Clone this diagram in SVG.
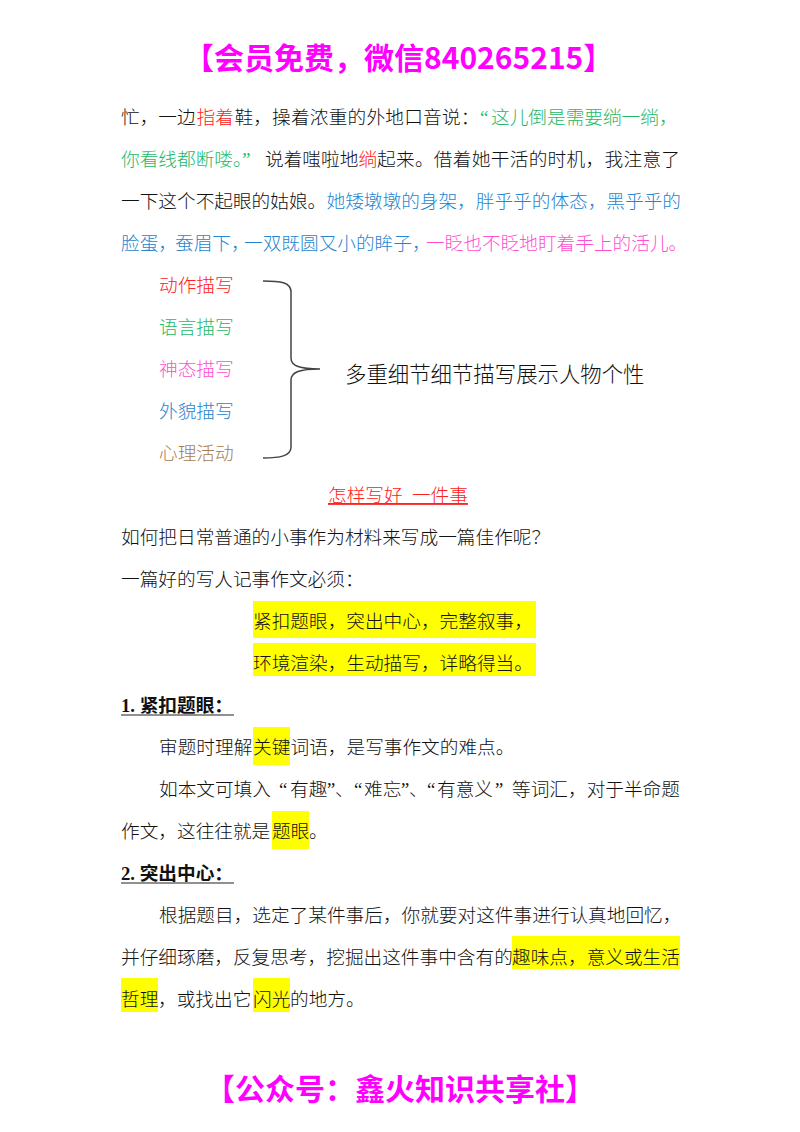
<svg xmlns="http://www.w3.org/2000/svg" width="800" height="1132" viewBox="0 0 800 1132" xml:lang="zh-CN">
<style>
text{font-family:"Liberation Serif","Noto Sans CJK SC",serif;font-size:18.67px;font-weight:300;fill:#111}
.h{font-family:"Noto Sans CJK SC",sans-serif;font-size:30px;font-weight:700;fill:#ff00ff}
.r{fill:#ff2020}.g{fill:#1db866}.b{fill:#2585cf}.p{fill:#ff4fd0}.n{fill:#a87c50}
.hl{fill:#ffff00}
.u{font-weight:700;fill:#111}
.line{stroke:#222;stroke-width:1.2}
</style>
<rect width="800" height="1132" fill="#fff"/>
<g id="highlights">
<rect class="hl" x="253" y="601" width="283" height="37"/>
<rect class="hl" x="253" y="643" width="283" height="33"/>
<rect class="hl" x="253" y="727" width="37" height="38"/>
<rect class="hl" x="272" y="811" width="37" height="38"/>
<rect class="hl" x="512" y="936" width="168" height="33"/>
<rect class="hl" x="121" y="978" width="37" height="34"/>
<rect class="hl" x="253" y="978" width="37" height="34"/>
</g>
<text id="header" class="h" x="184" y="69">【会员免费&#65292;微信840265215】</text>
<g id="passage">
<text y="124"><tspan x="121">忙&#65292;一边</tspan><tspan class="r" x="196.6">指着</tspan><tspan x="234.4" textLength="245">鞋&#65292;操着浓重的外地口音说&#65306;</tspan><tspan class="g" x="480">“</tspan><tspan class="g" x="491">这儿倒是需要绱一绱&#65292;</tspan></text>
<text y="166"><tspan class="g" x="121">你看线都断喽。”</tspan><tspan x="265">说着嗤啦地</tspan><tspan class="r" x="358.5">绱</tspan><tspan x="377" textLength="303">起来。借着她干活的时机&#65292;我注意了</tspan></text>
<text y="208"><tspan x="121">一下这个不起眼的姑娘。</tspan><tspan class="b" x="326.5">她矮墩墩的身架&#65292;胖乎乎的体态&#65292;黑乎乎的</tspan></text>
<text y="250"><tspan class="b" x="121">脸蛋&#65292;</tspan><tspan class="b" x="175">蚕眉下&#65292;</tspan><tspan class="b" x="244">一双既圆又小的眸子&#65292;</tspan><tspan class="p" x="426">一眨也不眨地盯着手上的活儿。</tspan></text>
</g>
<g id="labels">
<text class="r" x="159" y="292">动作描写</text>
<text class="g" x="159" y="334">语言描写</text>
<text class="p" x="159" y="376">神态描写</text>
<text class="b" x="159" y="418">外貌描写</text>
<text class="n" x="159" y="460">心理活动</text>
</g>
<path id="brace" d="M263,281 C280,281 291,282 291,292 V358 C291,366 300,369 320,369 C300,369 291,372 291,380 V447 C291,456 280,458 263,458" fill="none" stroke="#444" stroke-width="1.5"/>
<text id="summary" x="345" y="382" style="font-family:'Noto Sans CJK SC',sans-serif;font-size:21.4px;fill:#111">多重细节细节描写展示人物个性</text>
<text id="title" class="r" x="328" y="502" text-decoration="underline">怎样写好&#160;&#160;一件事</text>
<g id="body">
<text x="121" y="544">如何把日常普通的小事作为材料来写成一篇佳作呢&#65311;</text>
<text x="121" y="586">一篇好的写人记事作文必须&#65306;</text>
<text x="253" y="628">紧扣题眼&#65292;突出中心&#65292;完整叙事&#65292;</text>
<text x="253" y="670">环境渲染&#65292;生动描写&#65292;详略得当。</text>
<text class="u" x="121" y="712">1. 紧扣题眼&#65306;</text>
<line class="line" x1="121" y1="715" x2="234" y2="715"/>
<text y="754"><tspan x="159">审题时理解</tspan><tspan x="253">关键</tspan><tspan x="290.5">词语&#65292;是写事作文的难点。</tspan></text>
<text y="796"><tspan x="159">如本文可填入</tspan><tspan x="279">“</tspan><tspan x="290">有趣</tspan><tspan x="327">”</tspan><tspan x="335">、</tspan><tspan x="354">“</tspan><tspan x="364">难忘</tspan><tspan x="401">”</tspan><tspan x="409">、</tspan><tspan x="427">“</tspan><tspan x="437">有意义</tspan><tspan x="495">”</tspan><tspan x="512">等词汇&#65292;对于半命题</tspan></text>
<text y="838"><tspan x="121">作文&#65292;这往往就是</tspan><tspan x="272">题眼</tspan><tspan x="309">。</tspan></text>
<text class="u" x="121" y="880">2. 突出中心&#65306;</text>
<line class="line" x1="121" y1="883" x2="234" y2="883"/>
<text x="159" y="922">根据题目&#65292;选定了某件事后&#65292;你就要对这件事进行认真地回忆&#65292;</text>
<text y="964"><tspan x="121">并仔细琢磨&#65292;反复思考&#65292;挖掘出这件事中含有的</tspan><tspan x="512">趣味点&#65292;意义或生活</tspan></text>
<text y="1006"><tspan x="121">哲理</tspan><tspan x="158">&#65292;或找出它</tspan><tspan x="253">闪光</tspan><tspan x="290">的地方。</tspan></text>
</g>
<text id="footer" class="h" x="205" y="1100">【公众号&#65306;鑫火知识共享社】</text>
</svg>
